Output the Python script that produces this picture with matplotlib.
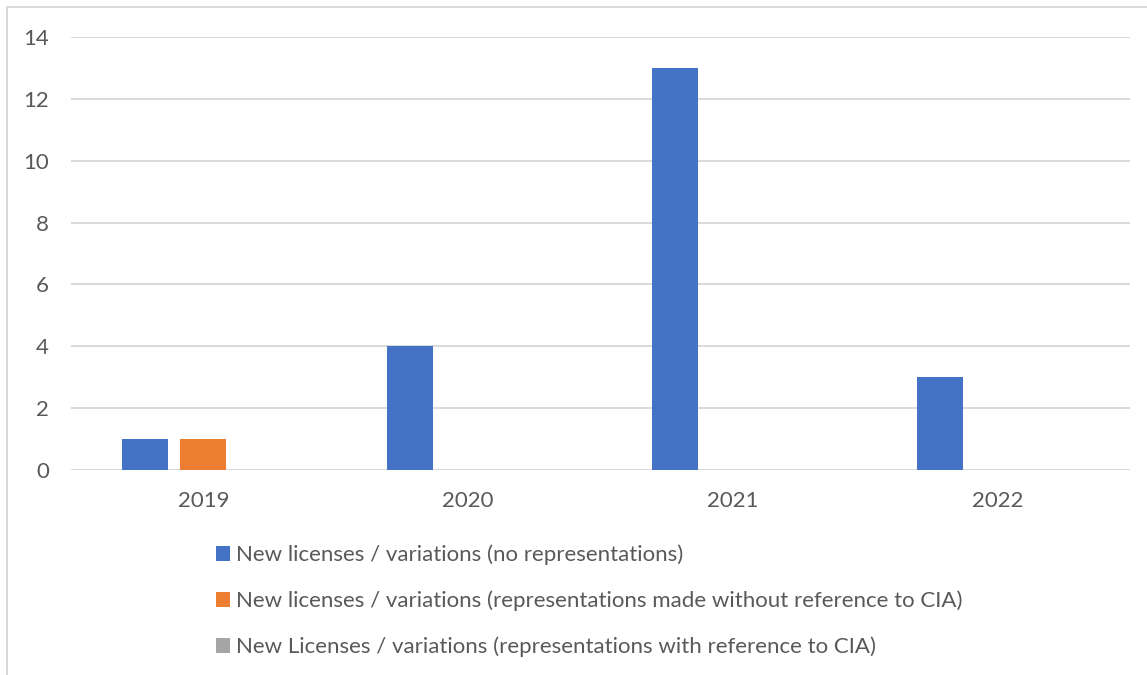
import matplotlib.pyplot as plt
import numpy as np
from matplotlib.patches import Patch, Rectangle

years = ["2019", "2020", "2021", "2022"]
no_reps = [1, 4, 13, 3]
reps_without_cia = [1, 0, 0, 0]
reps_with_cia = [0, 0, 0, 0]
series_names = [
    "New licenses / variations (no representations)",
    "New licenses / variations (representations made without reference to CIA)",
    "New Licenses / variations (representations with reference to CIA)",
]
colors = ["#4472C4", "#ED7D31", "#A5A5A5"]
text_col = "#595959"
grid_col = "#D9D9D9"

plt.rcParams["font.family"] = ["Lato", "DejaVu Sans"]

fig = plt.figure(figsize=(11.47, 6.75), dpi=100)
ax = fig.add_axes([0.0619, 0.3037, 0.9233, 0.6415])

x = np.arange(len(years))
w = 0.174
step = 0.219
for i, vals in enumerate([no_reps, reps_without_cia, reps_with_cia]):
    ax.bar(x + (i - 1) * step, vals, width=w, color=colors[i], zorder=3)

ax.set_xlim(-0.5, len(years) - 0.5)
ax.set_ylim(0, 14)
ax.set_yticks(range(0, 15, 2))
ax.set_xticks(x)
ax.set_xticklabels(years)
ax.yaxis.grid(True, color=grid_col, linewidth=1.4, zorder=0)
for s in ax.spines.values():
    s.set_visible(False)
ax.tick_params(length=0, labelsize=16, colors=text_col)
ax.tick_params(axis="y", pad=16)
ax.tick_params(axis="x", pad=15)

# chart frame
fig.patches.append(Rectangle((7 / 1147, -0.1), 1.2, 1.1 - 7 / 675, transform=fig.transFigure,
                             fill=False, edgecolor=grid_col, linewidth=1.4))

handles = [Patch(facecolor=c, edgecolor="none") for c in colors]
leg = fig.legend(handles, series_names, loc="upper left", bbox_to_anchor=(0.1805, 0.206),
                 frameon=False, fontsize=16, handlelength=0.62, handleheight=0.62,
                 handletextpad=0.3, labelspacing=1.14, borderaxespad=0)
for t in leg.get_texts():
    t.set_color(text_col)

fig.savefig("out.png", dpi=100)
